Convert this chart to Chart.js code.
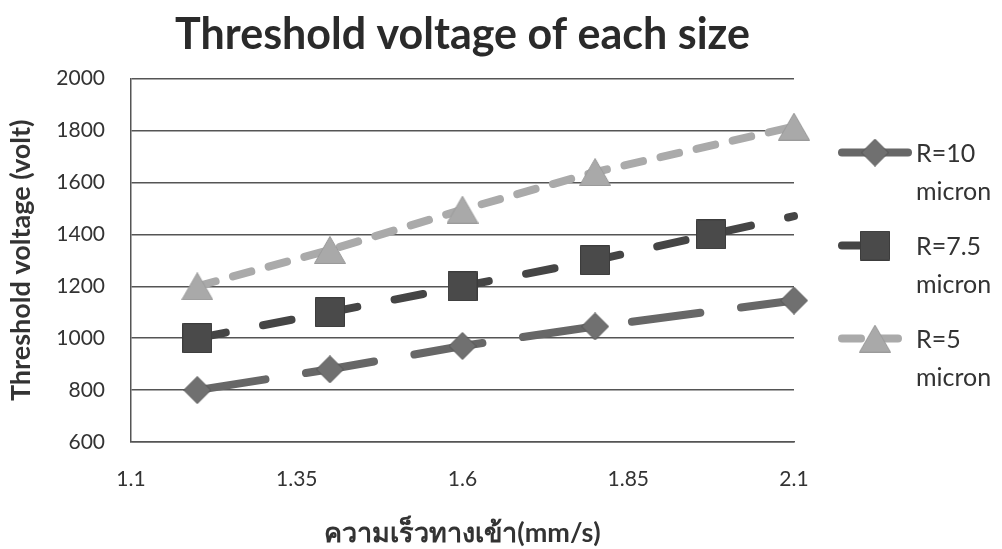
<!DOCTYPE html>
<html>
<head>
<meta charset="utf-8">
<script src="https://cdn.jsdelivr.net/npm/chart.js@4.4.0/dist/chart.umd.min.js"></script>
<style>
  html, body { margin: 0; padding: 0; background: #fff; }
  #wrap { width: 1002px; height: 549px; position: relative; }
</style>
</head>
<body>
<div id="wrap"><canvas id="plots"></canvas></div>
<script>
// speed (mm/s) vs threshold voltage for each radius
const speeds10 = [1.2, 1.4, 1.6, 1.8, 2.1]
const volts10 = [800, 880, 970, 1045, 1145]

const speeds75 = [1.2, 1.4, 1.6, 1.8, 1.975, 2.1]
const volts75 = [1000, 1100, 1200, 1300, 1400, 1470]

const speeds5 = [1.2, 1.4, 1.6, 1.8, 2.1]
const volts5 = [1200, 1340, 1495, 1640, 1815]

const seriesNames = ['R=10 micron', 'R=7.5 micron', 'R=5 micron']
const xTicks = [1.1, 1.35, 1.6, 1.85, 2.1]
const yTicks = [600, 800, 1000, 1200, 1400, 1600, 1800, 2000]

const FONT = "Lato, 'Open Sans', sans-serif"

function toPoints(xs, ys) {
  return xs.map((x, i) => ({ x: x, y: ys[i] }))
}

// little canvases used as point markers (and in the legend)
function makeMarker(shape, w, h, fill, stroke) {
  const c = document.createElement('canvas')
  c.width = w
  c.height = h
  const g = c.getContext('2d')
  g.fillStyle = fill
  g.strokeStyle = stroke
  g.lineWidth = 1
  g.beginPath()
  if (shape === 'diamond') {
    g.moveTo(w / 2, 0.5)
    g.lineTo(w - 0.5, h / 2)
    g.lineTo(w / 2, h - 0.5)
    g.lineTo(0.5, h / 2)
  } else if (shape === 'square') {
    g.rect(0.5, 0.5, w - 1, h - 1)
  } else {
    g.moveTo(w / 2, 0.5)
    g.lineTo(w - 0.5, h - 0.5)
    g.lineTo(0.5, h - 0.5)
  }
  g.closePath()
  g.fill()
  g.stroke()
  return c
}

const mDiamond = makeMarker('diamond', 28, 28, '#707070', '#555')
const mSquare = makeMarker('square', 30, 30, '#4a4a4a', '#3c3c3c')
const mTriangle = makeMarker('triangle', 32, 28, '#a9a9a9', '#9a9a9a')

// legend on the right, one entry per dataset, label wrapped on two lines
const sideLegend = {
  id: 'sideLegend',
  afterDraw(chart) {
    const ctx = chart.ctx
    const area = chart.chartArea
    const x0 = area.right + 44
    const x1 = area.right + 118
    const mid = (x0 + x1) / 2
    chart.data.datasets.forEach((ds, i) => {
      const y = area.top + 74 + i * 93
      ctx.save()
      ctx.strokeStyle = ds.borderColor
      ctx.lineWidth = ds.borderWidth
      ctx.lineCap = 'round'
      ctx.setLineDash(ds.borderDash)
      ctx.beginPath()
      ctx.moveTo(x0 + 4, y)
      ctx.lineTo(x1 - 4, y)
      ctx.stroke()
      ctx.setLineDash([])
      const m = ds.pointStyle
      ctx.drawImage(m, mid - m.width / 2, y - m.height / 2)
      ctx.fillStyle = '#333'
      ctx.font = '25px ' + FONT
      ctx.textBaseline = 'middle'
      ctx.textAlign = 'left'
      const parts = ds.label.split(' ')
      ctx.fillText(parts[0], x1 + 4, y + 1)
      ctx.fillText(parts[1], x1 + 4, y + 39)
      ctx.restore()
    })
  }
}

const chart1 = new Chart(document.getElementById('plots'), {
  type: 'line',
  data: {
    datasets: [{
      label: seriesNames[0],
      data: toPoints(speeds10, volts10),
      borderColor: '#676767',
      borderWidth: 8,
      borderDash: [69, 41],
      borderCapStyle: 'round',
      pointStyle: mDiamond,
      pointRadius: 14,
      clip: false
    }, {
      label: seriesNames[1],
      data: toPoints(speeds75, volts75),
      borderColor: '#454545',
      borderWidth: 8,
      borderDash: [29, 38],
      borderCapStyle: 'round',
      pointStyle: mSquare,
      pointRadius: [15, 15, 15, 15, 15, 0],
      clip: false
    }, {
      label: seriesNames[2],
      data: toPoints(speeds5, volts5),
      borderColor: '#aaaaaa',
      borderWidth: 8,
      borderDash: [19, 18],
      borderCapStyle: 'round',
      pointStyle: mTriangle,
      pointRadius: 16,
      clip: false
    }]
  },
  options: {
    responsive: true,
    maintainAspectRatio: false,
    animation: false,
    devicePixelRatio: 1,
    events: [],
    layout: { padding: { left: 0, right: 208, top: 0, bottom: 0 } },
    plugins: {
      legend: { display: false },
      tooltip: { enabled: false },
      title: {
        display: true,
        text: 'Threshold voltage of each size',
        fullSize: false,
        color: '#2a2a2a',
        font: { family: FONT, size: 43, weight: 'bold' },
        padding: { top: 9, bottom: 18 }
      }
    },
    scales: {
      x: {
        type: 'linear',
        min: 1.1,
        max: 2.1,
        afterBuildTicks: s => { s.ticks = xTicks.map(v => ({ value: v })) },
        afterFit: s => { s.height = 107 },
        grid: { display: false, drawTicks: false },
        border: { display: true, color: '#555', width: 1.5 },
        ticks: {
          color: '#333',
          padding: 25,
          maxRotation: 0,
          font: { family: FONT, size: 21 },
          callback: v => String(v)
        },
        title: {
          display: true,
          text: 'ความเร็วทางเข้า(mm/s)',
          color: '#333',
          font: { family: FONT, size: 27, weight: 'bold' },
          padding: { top: 0, bottom: 0 }
        }
      },
      y: {
        min: 600,
        max: 2000,
        afterBuildTicks: s => { s.ticks = yTicks.map(v => ({ value: v })) },
        afterFit: s => { s.width = 131 },
        grid: { color: '#555', lineWidth: 1.5, drawTicks: false },
        border: { display: true, color: '#555', width: 1.5 },
        ticks: {
          color: '#333',
          padding: 26,
          font: { family: FONT, size: 21 },
          callback: v => String(v)
        },
        title: {
          display: true,
          text: 'Threshold voltage (volt)',
          color: '#333',
          font: { family: FONT, size: 27, weight: 'bold' },
          padding: { top: 5 }
        }
      }
    }
  },
  plugins: [sideLegend]
})
</script>
</body>
</html>
